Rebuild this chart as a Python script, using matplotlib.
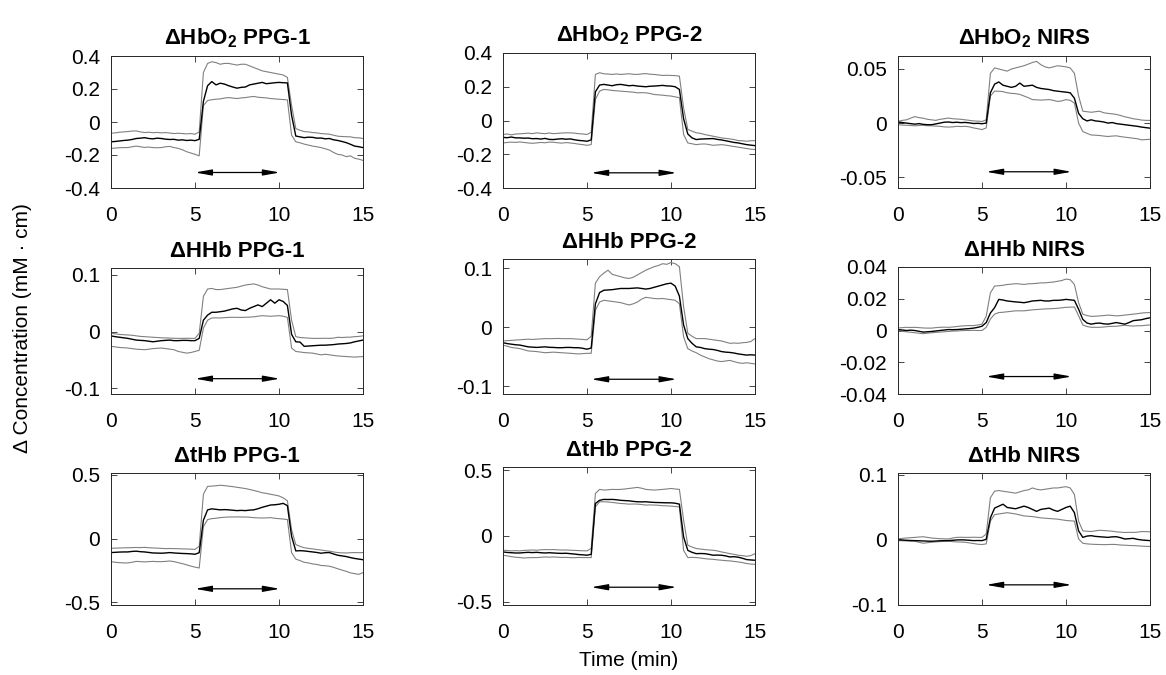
import numpy as np
import matplotlib
matplotlib.use('Agg')
from matplotlib import pyplot as plt
from matplotlib.ticker import FuncFormatter

plt.rcParams['font.family'] = ['Liberation Sans', 'DejaVu Sans']
plt.rcParams['mathtext.default'] = 'regular'
plt.rcParams['axes.unicode_minus'] = False

# time axis, minutes (sampled every 15 s)
t = np.arange(0, 15.01, 0.25)

titles = [r'ΔHbO$_2$ PPG-1', r'ΔHbO$_2$ PPG-2', r'ΔHbO$_2$ NIRS',
          'ΔHHb PPG-1', 'ΔHHb PPG-2', 'ΔHHb NIRS',
          'ΔtHb PPG-1', 'ΔtHb PPG-2', 'ΔtHb NIRS']

# ---- HbO2 PPG-1
hbo2_ppg1_mean = [-0.120, -0.118, -0.115, -0.112, -0.110, -0.106, -0.100, -0.098,
                  -0.095, -0.100, -0.102, -0.098, -0.100, -0.104, -0.106, -0.105,
                  -0.110, -0.108, -0.112, -0.110, -0.113, -0.105, 0.125, 0.220,
                  0.245, 0.225, 0.235, 0.230, 0.220, 0.212, 0.205, 0.210,
                  0.212, 0.225, 0.230, 0.235, 0.240, 0.232, 0.235, 0.238,
                  0.240, 0.238, 0.237, 0.040, -0.085, -0.090, -0.095, -0.092,
                  -0.093, -0.098, -0.097, -0.102, -0.100, -0.108, -0.112, -0.118,
                  -0.125, -0.135, -0.146, -0.150, -0.155]
hbo2_ppg1_hi = [-0.068, -0.066, -0.062, -0.060, -0.058, -0.055, -0.054, -0.060,
                -0.064, -0.062, -0.065, -0.063, -0.066, -0.064, -0.067, -0.070,
                -0.068, -0.070, -0.072, -0.070, -0.074, -0.060, 0.300, 0.355,
                0.365, 0.360, 0.350, 0.355, 0.355, 0.350, 0.345, 0.350,
                0.350, 0.340, 0.330, 0.320, 0.310, 0.305, 0.300, 0.295,
                0.290, 0.285, 0.270, 0.100, -0.040, -0.050, -0.058, -0.060,
                -0.064, -0.066, -0.070, -0.072, -0.074, -0.080, -0.086, -0.088,
                -0.089, -0.090, -0.095, -0.096, -0.100]
hbo2_ppg1_lo = [-0.160, -0.158, -0.156, -0.155, -0.155, -0.150, -0.146, -0.150,
                -0.154, -0.152, -0.155, -0.156, -0.155, -0.150, -0.148, -0.155,
                -0.160, -0.168, -0.180, -0.188, -0.196, -0.205, 0.100, 0.130,
                0.135, 0.138, 0.140, 0.145, 0.148, 0.145, 0.142, 0.146,
                0.148, 0.152, 0.155, 0.150, 0.148, 0.146, 0.142, 0.140,
                0.138, 0.136, 0.134, -0.080, -0.120, -0.126, -0.134, -0.140,
                -0.146, -0.150, -0.155, -0.162, -0.170, -0.185, -0.196, -0.200,
                -0.210, -0.205, -0.220, -0.225, -0.233]

# ---- HbO2 PPG-2
hbo2_ppg2_mean = [-0.100, -0.102, -0.098, -0.103, -0.103, -0.105, -0.104, -0.108,
                  -0.107, -0.110, -0.106, -0.112, -0.113, -0.110, -0.108, -0.111,
                  -0.109, -0.114, -0.118, -0.120, -0.123, -0.115, 0.170, 0.210,
                  0.214, 0.210, 0.206, 0.212, 0.214, 0.210, 0.206, 0.208,
                  0.204, 0.202, 0.200, 0.203, 0.204, 0.206, 0.208, 0.205,
                  0.204, 0.200, 0.184, 0.010, -0.080, -0.103, -0.113, -0.110,
                  -0.109, -0.108, -0.107, -0.112, -0.115, -0.120, -0.125, -0.130,
                  -0.133, -0.138, -0.143, -0.146, -0.149]
hbo2_ppg2_hi = [-0.083, -0.080, -0.085, -0.080, -0.079, -0.077, -0.075, -0.078,
                -0.073, -0.076, -0.078, -0.074, -0.078, -0.076, -0.074, -0.073,
                -0.073, -0.075, -0.078, -0.080, -0.083, -0.070, 0.273, 0.283,
                0.277, 0.275, 0.273, 0.276, 0.273, 0.275, 0.277, 0.274,
                0.273, 0.276, 0.278, 0.274, 0.273, 0.270, 0.267, 0.268,
                0.267, 0.266, 0.263, 0.075, -0.053, -0.063, -0.073, -0.076,
                -0.083, -0.088, -0.093, -0.098, -0.103, -0.106, -0.109, -0.113,
                -0.119, -0.120, -0.123, -0.120, -0.119]
hbo2_ppg2_lo = [-0.133, -0.130, -0.128, -0.130, -0.127, -0.130, -0.133, -0.135,
                -0.133, -0.130, -0.132, -0.128, -0.129, -0.132, -0.134, -0.131,
                -0.133, -0.136, -0.140, -0.143, -0.147, -0.143, 0.125, 0.174,
                0.184, 0.182, 0.178, 0.176, 0.174, 0.172, 0.170, 0.168,
                0.164, 0.165, 0.164, 0.160, 0.154, 0.152, 0.150, 0.147,
                0.145, 0.140, 0.135, -0.083, -0.133, -0.138, -0.143, -0.140,
                -0.139, -0.142, -0.147, -0.145, -0.143, -0.146, -0.150, -0.154,
                -0.158, -0.162, -0.166, -0.170, -0.172]

# ---- HbO2 NIRS
hbo2_nirs_mean = [0.0010, 0.0005, 0.0000, -0.0005, -0.0010, -0.0005, -0.0012, -0.0015,
                  -0.0015, -0.0008, 0.0000, 0.0008, 0.0010, 0.0005, 0.0008, 0.0004,
                  0.0006, 0.0002, -0.0004, -0.0002, -0.0006, 0.0000, 0.0280, 0.0360,
                  0.0380, 0.0350, 0.0340, 0.0330, 0.0340, 0.0370, 0.0340, 0.0345,
                  0.0350, 0.0330, 0.0320, 0.0315, 0.0310, 0.0300, 0.0295, 0.0290,
                  0.0286, 0.0280, 0.0230, 0.0090, 0.0040, 0.0020, 0.0030, 0.0020,
                  0.0016, 0.0010, 0.0000, 0.0005, -0.0005, -0.0010, -0.0015, -0.0020,
                  -0.0025, -0.0030, -0.0037, -0.0042, -0.0047]
hbo2_nirs_hi = [0.0015, 0.0025, 0.0030, 0.0045, 0.0060, 0.0050, 0.0045, 0.0035,
                0.0030, 0.0025, 0.0035, 0.0040, 0.0047, 0.0040, 0.0038, 0.0035,
                0.0030, 0.0025, 0.0020, 0.0018, 0.0015, 0.0030, 0.0460, 0.0510,
                0.0500, 0.0490, 0.0480, 0.0500, 0.0510, 0.0520, 0.0530, 0.0545,
                0.0560, 0.0570, 0.0540, 0.0520, 0.0510, 0.0520, 0.0530, 0.0525,
                0.0520, 0.0510, 0.0460, 0.0250, 0.0110, 0.0105, 0.0100, 0.0105,
                0.0110, 0.0095, 0.0090, 0.0085, 0.0080, 0.0070, 0.0058, 0.0050,
                0.0040, 0.0035, 0.0028, 0.0025, 0.0025]
hbo2_nirs_lo = [-0.0015, -0.0018, -0.0020, -0.0022, -0.0025, -0.0022, -0.0020, -0.0025,
                -0.0025, -0.0028, -0.0030, -0.0035, -0.0037, -0.0035, -0.0030, -0.0032,
                -0.0030, -0.0035, -0.0045, -0.0052, -0.0060, -0.0045, 0.0250, 0.0295,
                0.0295, 0.0290, 0.0280, 0.0275, 0.0272, 0.0265, 0.0250, 0.0235,
                0.0217, 0.0215, 0.0212, 0.0215, 0.0217, 0.0210, 0.0200, 0.0205,
                0.0217, 0.0210, 0.0185, 0.0000, -0.0078, -0.0095, -0.0110, -0.0112,
                -0.0115, -0.0120, -0.0124, -0.0120, -0.0118, -0.0125, -0.0130, -0.0135,
                -0.0140, -0.0145, -0.0155, -0.0152, -0.0150]

# ---- HHb PPG-1
hhb_ppg1_mean = [-0.0076, -0.0090, -0.0100, -0.0110, -0.0120, -0.0135, -0.0150, -0.0155,
                 -0.0160, -0.0170, -0.0180, -0.0170, -0.0160, -0.0155, -0.0150, -0.0160,
                 -0.0160, -0.0155, -0.0155, -0.0160, -0.0160, -0.0120, 0.0200, 0.0290,
                 0.0340, 0.0340, 0.0350, 0.0360, 0.0380, 0.0400, 0.0410, 0.0380,
                 0.0370, 0.0410, 0.0440, 0.0470, 0.0440, 0.0500, 0.0560, 0.0500,
                 0.0560, 0.0530, 0.0460, -0.0050, -0.0180, -0.0185, -0.0260, -0.0255,
                 -0.0250, -0.0245, -0.0240, -0.0240, -0.0235, -0.0230, -0.0220, -0.0215,
                 -0.0210, -0.0200, -0.0180, -0.0165, -0.0150]
hhb_ppg1_hi = [-0.0030, -0.0040, -0.0050, -0.0055, -0.0060, -0.0065, -0.0075, -0.0085,
               -0.0090, -0.0095, -0.0100, -0.0105, -0.0110, -0.0112, -0.0115, -0.0118,
               -0.0120, -0.0120, -0.0118, -0.0120, -0.0120, -0.0030, 0.0620, 0.0750,
               0.0760, 0.0740, 0.0740, 0.0750, 0.0760, 0.0770, 0.0780, 0.0800,
               0.0820, 0.0830, 0.0840, 0.0820, 0.0790, 0.0770, 0.0750, 0.0750,
               0.0750, 0.0745, 0.0740, 0.0200, -0.0090, -0.0105, -0.0110, -0.0115,
               -0.0120, -0.0120, -0.0120, -0.0118, -0.0120, -0.0115, -0.0100, -0.0105,
               -0.0100, -0.0098, -0.0090, -0.0085, -0.0076]
hhb_ppg1_lo = [-0.0260, -0.0270, -0.0280, -0.0285, -0.0290, -0.0300, -0.0310, -0.0315,
               -0.0320, -0.0310, -0.0300, -0.0295, -0.0290, -0.0300, -0.0310, -0.0320,
               -0.0350, -0.0365, -0.0380, -0.0370, -0.0350, -0.0330, 0.0060, 0.0200,
               0.0240, 0.0242, 0.0240, 0.0245, 0.0250, 0.0252, 0.0250, 0.0250,
               0.0252, 0.0255, 0.0260, 0.0270, 0.0280, 0.0275, 0.0270, 0.0275,
               0.0280, 0.0270, 0.0250, -0.0290, -0.0350, -0.0360, -0.0370, -0.0375,
               -0.0380, -0.0395, -0.0410, -0.0400, -0.0410, -0.0420, -0.0430, -0.0435,
               -0.0440, -0.0445, -0.0450, -0.0445, -0.0440]

# ---- HHb PPG-2
hhb_ppg2_mean = [-0.0260, -0.0275, -0.0285, -0.0295, -0.0300, -0.0315, -0.0330, -0.0335,
                 -0.0340, -0.0335, -0.0330, -0.0338, -0.0340, -0.0345, -0.0345, -0.0340,
                 -0.0340, -0.0345, -0.0345, -0.0355, -0.0370, -0.0350, 0.0400, 0.0590,
                 0.0630, 0.0635, 0.0640, 0.0650, 0.0660, 0.0660, 0.0660, 0.0665,
                 0.0670, 0.0660, 0.0650, 0.0660, 0.0680, 0.0700, 0.0720, 0.0740,
                 0.0750, 0.0700, 0.0530, 0.0040, -0.0190, -0.0270, -0.0330, -0.0340,
                 -0.0360, -0.0370, -0.0375, -0.0390, -0.0410, -0.0420, -0.0425, -0.0435,
                 -0.0450, -0.0460, -0.0470, -0.0465, -0.0470]
hhb_ppg2_hi = [-0.0230, -0.0225, -0.0220, -0.0215, -0.0210, -0.0205, -0.0200, -0.0205,
               -0.0200, -0.0195, -0.0190, -0.0192, -0.0190, -0.0188, -0.0190, -0.0192,
               -0.0190, -0.0195, -0.0200, -0.0205, -0.0210, -0.0150, 0.0750, 0.0860,
               0.0920, 0.0970, 0.0900, 0.0880, 0.0860, 0.0840, 0.0830, 0.0850,
               0.0890, 0.0930, 0.0970, 0.1000, 0.1030, 0.1050, 0.1080, 0.1070,
               0.1100, 0.1080, 0.1030, 0.0350, -0.0100, -0.0150, -0.0190, -0.0190,
               -0.0190, -0.0200, -0.0210, -0.0220, -0.0230, -0.0250, -0.0270, -0.0265,
               -0.0270, -0.0260, -0.0255, -0.0240, -0.0190]
hhb_ppg2_lo = [-0.0300, -0.0320, -0.0340, -0.0350, -0.0360, -0.0380, -0.0400, -0.0405,
               -0.0410, -0.0420, -0.0430, -0.0425, -0.0420, -0.0425, -0.0430, -0.0435,
               -0.0440, -0.0445, -0.0450, -0.0445, -0.0440, -0.0440, 0.0290, 0.0430,
               0.0460, 0.0450, 0.0440, 0.0430, 0.0420, 0.0400, 0.0380, 0.0400,
               0.0430, 0.0480, 0.0510, 0.0500, 0.0490, 0.0485, 0.0490, 0.0480,
               0.0470, 0.0460, 0.0400, -0.0160, -0.0360, -0.0400, -0.0430, -0.0470,
               -0.0500, -0.0530, -0.0550, -0.0570, -0.0580, -0.0570, -0.0560, -0.0580,
               -0.0600, -0.0610, -0.0600, -0.0610, -0.0620]

# ---- HHb NIRS
hhb_nirs_mean = [0.0006, 0.0003, 0.0000, 0.0002, 0.0000, -0.0005, -0.0010, -0.0008,
                 -0.0006, -0.0003, 0.0000, 0.0003, 0.0006, 0.0005, 0.0006, 0.0008,
                 0.0010, 0.0012, 0.0015, 0.0020, 0.0027, 0.0050, 0.0110, 0.0144,
                 0.0196, 0.0192, 0.0186, 0.0183, 0.0180, 0.0178, 0.0175, 0.0180,
                 0.0186, 0.0188, 0.0190, 0.0186, 0.0186, 0.0190, 0.0190, 0.0192,
                 0.0196, 0.0193, 0.0190, 0.0134, 0.0070, 0.0047, 0.0040, 0.0045,
                 0.0047, 0.0042, 0.0040, 0.0045, 0.0050, 0.0045, 0.0040, 0.0050,
                 0.0062, 0.0065, 0.0068, 0.0075, 0.0080]
hhb_nirs_hi = [0.0016, 0.0018, 0.0020, 0.0019, 0.0020, 0.0018, 0.0016, 0.0015,
               0.0015, 0.0018, 0.0020, 0.0021, 0.0020, 0.0022, 0.0025, 0.0028,
               0.0030, 0.0031, 0.0031, 0.0035, 0.0040, 0.0090, 0.0237, 0.0280,
               0.0282, 0.0285, 0.0290, 0.0292, 0.0295, 0.0293, 0.0290, 0.0294,
               0.0295, 0.0297, 0.0300, 0.0300, 0.0303, 0.0305, 0.0310, 0.0315,
               0.0324, 0.0320, 0.0290, 0.0175, 0.0103, 0.0094, 0.0089, 0.0090,
               0.0092, 0.0094, 0.0097, 0.0095, 0.0092, 0.0094, 0.0097, 0.0100,
               0.0103, 0.0106, 0.0110, 0.0112, 0.0113]
hhb_nirs_lo = [0.0000, -0.0005, -0.0008, -0.0011, -0.0014, -0.0017, -0.0020, -0.0017,
               -0.0014, -0.0012, -0.0010, -0.0008, -0.0006, -0.0004, -0.0003, -0.0001,
               0.0000, 0.0000, 0.0001, 0.0000, 0.0000, 0.0020, 0.0072, 0.0103,
               0.0113, 0.0115, 0.0118, 0.0121, 0.0124, 0.0124, 0.0124, 0.0127,
               0.0130, 0.0132, 0.0134, 0.0136, 0.0137, 0.0138, 0.0140, 0.0143,
               0.0146, 0.0147, 0.0148, 0.0093, 0.0035, 0.0025, 0.0020, 0.0020,
               0.0020, 0.0022, 0.0025, 0.0026, 0.0027, 0.0030, 0.0033, 0.0030,
               0.0028, 0.0030, 0.0030, 0.0033, 0.0035]

# ---- tHb PPG-1
thb_ppg1_mean = [-0.109, -0.107, -0.105, -0.104, -0.104, -0.100, -0.098, -0.102,
                 -0.104, -0.108, -0.112, -0.113, -0.114, -0.112, -0.109, -0.112,
                 -0.114, -0.116, -0.117, -0.119, -0.122, -0.110, 0.145, 0.226,
                 0.234, 0.230, 0.226, 0.228, 0.226, 0.223, 0.220, 0.222,
                 0.220, 0.224, 0.226, 0.235, 0.246, 0.255, 0.264, 0.266,
                 0.270, 0.277, 0.259, 0.018, -0.096, -0.094, -0.096, -0.100,
                 -0.104, -0.108, -0.114, -0.110, -0.109, -0.120, -0.130, -0.135,
                 -0.140, -0.148, -0.155, -0.160, -0.165]
thb_ppg1_hi = [-0.076, -0.074, -0.073, -0.072, -0.071, -0.070, -0.069, -0.070,
               -0.068, -0.071, -0.073, -0.074, -0.076, -0.078, -0.077, -0.078,
               -0.079, -0.080, -0.081, -0.082, -0.084, -0.060, 0.348, 0.410,
               0.412, 0.415, 0.419, 0.416, 0.412, 0.408, 0.403, 0.398,
               0.393, 0.386, 0.378, 0.370, 0.360, 0.355, 0.348, 0.342,
               0.335, 0.320, 0.297, 0.069, -0.046, -0.060, -0.071, -0.076,
               -0.080, -0.085, -0.089, -0.094, -0.098, -0.104, -0.109, -0.111,
               -0.112, -0.110, -0.109, -0.110, -0.109]
thb_ppg1_lo = [-0.180, -0.185, -0.188, -0.190, -0.190, -0.185, -0.178, -0.180,
               -0.182, -0.180, -0.178, -0.180, -0.180, -0.178, -0.175, -0.180,
               -0.188, -0.196, -0.205, -0.215, -0.223, -0.230, 0.094, 0.150,
               0.157, 0.160, 0.165, 0.168, 0.170, 0.170, 0.171, 0.170,
               0.170, 0.168, 0.165, 0.163, 0.162, 0.163, 0.165, 0.160,
               0.157, 0.154, 0.150, -0.110, -0.160, -0.172, -0.185, -0.190,
               -0.198, -0.202, -0.210, -0.212, -0.216, -0.225, -0.236, -0.246,
               -0.256, -0.268, -0.274, -0.280, -0.266]

# ---- tHb PPG-2
thb_ppg2_mean = [-0.122, -0.126, -0.128, -0.130, -0.130, -0.127, -0.125, -0.127,
                 -0.125, -0.128, -0.130, -0.128, -0.130, -0.132, -0.133, -0.132,
                 -0.135, -0.138, -0.142, -0.144, -0.147, -0.140, 0.246, 0.270,
                 0.277, 0.276, 0.277, 0.274, 0.270, 0.268, 0.266, 0.262,
                 0.259, 0.258, 0.259, 0.256, 0.254, 0.253, 0.252, 0.251,
                 0.251, 0.248, 0.241, -0.008, -0.110, -0.125, -0.135, -0.134,
                 -0.135, -0.140, -0.147, -0.146, -0.147, -0.152, -0.160, -0.158,
                 -0.162, -0.170, -0.180, -0.183, -0.185]
thb_ppg2_hi = [-0.109, -0.111, -0.114, -0.112, -0.114, -0.110, -0.109, -0.107,
               -0.109, -0.106, -0.104, -0.105, -0.104, -0.106, -0.108, -0.107,
               -0.109, -0.110, -0.112, -0.113, -0.114, -0.095, 0.322, 0.353,
               0.348, 0.350, 0.353, 0.352, 0.353, 0.356, 0.360, 0.364,
               0.368, 0.362, 0.353, 0.350, 0.348, 0.350, 0.353, 0.356,
               0.360, 0.356, 0.353, 0.120, -0.071, -0.085, -0.096, -0.100,
               -0.104, -0.107, -0.109, -0.114, -0.122, -0.128, -0.135, -0.140,
               -0.147, -0.150, -0.155, -0.150, -0.135]
thb_ppg2_lo = [-0.147, -0.152, -0.158, -0.162, -0.165, -0.168, -0.166, -0.165,
               -0.165, -0.163, -0.160, -0.162, -0.160, -0.162, -0.164, -0.163,
               -0.165, -0.166, -0.164, -0.165, -0.165, -0.165, 0.220, 0.259,
               0.259, 0.257, 0.254, 0.250, 0.246, 0.244, 0.241, 0.242,
               0.241, 0.238, 0.234, 0.235, 0.234, 0.232, 0.229, 0.228,
               0.226, 0.223, 0.220, -0.110, -0.165, -0.163, -0.165, -0.168,
               -0.173, -0.176, -0.178, -0.182, -0.185, -0.188, -0.190, -0.194,
               -0.198, -0.203, -0.210, -0.214, -0.216]

# ---- tHb NIRS
thb_nirs_mean = [0.0005, 0.0000, -0.0005, -0.0008, -0.0010, -0.0012, -0.0015, -0.0018,
                 -0.0020, -0.0016, -0.0012, -0.0010, -0.0010, -0.0005, 0.0000, 0.0002,
                 0.0000, -0.0005, -0.0010, -0.0008, -0.0010, 0.0010, 0.0340, 0.0490,
                 0.0520, 0.0550, 0.0500, 0.0490, 0.0480, 0.0500, 0.0520, 0.0500,
                 0.0470, 0.0440, 0.0470, 0.0480, 0.0490, 0.0460, 0.0440, 0.0470,
                 0.0500, 0.0520, 0.0420, 0.0140, 0.0040, 0.0060, 0.0066, 0.0055,
                 0.0050, 0.0045, 0.0040, 0.0048, 0.0050, 0.0035, 0.0015, 0.0020,
                 0.0025, 0.0010, 0.0000, -0.0005, -0.0010]
thb_nirs_hi = [0.0015, 0.0025, 0.0030, 0.0035, 0.0040, 0.0045, 0.0050, 0.0040,
               0.0030, 0.0025, 0.0020, 0.0018, 0.0015, 0.0030, 0.0040, 0.0042,
               0.0040, 0.0040, 0.0042, 0.0040, 0.0040, 0.0090, 0.0650, 0.0750,
               0.0760, 0.0750, 0.0740, 0.0730, 0.0720, 0.0740, 0.0760, 0.0770,
               0.0800, 0.0780, 0.0770, 0.0780, 0.0790, 0.0800, 0.0800, 0.0810,
               0.0820, 0.0800, 0.0700, 0.0290, 0.0140, 0.0135, 0.0130, 0.0140,
               0.0150, 0.0145, 0.0140, 0.0135, 0.0125, 0.0120, 0.0115, 0.0118,
               0.0116, 0.0120, 0.0130, 0.0128, 0.0126]
thb_nirs_lo = [-0.0010, -0.0012, -0.0015, -0.0018, -0.0020, -0.0035, -0.0050, -0.0042,
               -0.0035, -0.0030, -0.0025, -0.0022, -0.0020, -0.0025, -0.0030, -0.0032,
               -0.0035, -0.0045, -0.0055, -0.0065, -0.0070, -0.0060, 0.0290, 0.0390,
               0.0400, 0.0410, 0.0420, 0.0410, 0.0400, 0.0385, 0.0370, 0.0365,
               0.0360, 0.0350, 0.0340, 0.0335, 0.0330, 0.0325, 0.0320, 0.0310,
               0.0300, 0.0295, 0.0290, 0.0015, -0.0050, -0.0060, -0.0065, -0.0068,
               -0.0070, -0.0072, -0.0070, -0.0068, -0.0070, -0.0078, -0.0080, -0.0085,
               -0.0086, -0.0090, -0.0095, -0.0098, -0.0100]

means = [hbo2_ppg1_mean, hbo2_ppg2_mean, hbo2_nirs_mean,
         hhb_ppg1_mean, hhb_ppg2_mean, hhb_nirs_mean,
         thb_ppg1_mean, thb_ppg2_mean, thb_nirs_mean]
highs = [hbo2_ppg1_hi, hbo2_ppg2_hi, hbo2_nirs_hi,
         hhb_ppg1_hi, hhb_ppg2_hi, hhb_nirs_hi,
         thb_ppg1_hi, thb_ppg2_hi, thb_nirs_hi]
lows = [hbo2_ppg1_lo, hbo2_ppg2_lo, hbo2_nirs_lo,
        hhb_ppg1_lo, hhb_ppg2_lo, hhb_nirs_lo,
        thb_ppg1_lo, thb_ppg2_lo, thb_nirs_lo]

yticks = [[-0.4, -0.2, 0, 0.2, 0.4], [-0.4, -0.2, 0, 0.2, 0.4], [-0.05, 0, 0.05],
          [-0.1, 0, 0.1], [-0.1, 0, 0.1], [-0.04, -0.02, 0, 0.02, 0.04],
          [-0.5, 0, 0.5], [-0.5, 0, 0.5], [-0.1, 0, 0.1]]
ylims = [(-0.4, 0.4), (-0.4, 0.4), (-0.06, 0.062),
         (-0.11, 0.112), (-0.113, 0.116), (-0.039, 0.04),
         (-0.52, 0.515), (-0.525, 0.523), (-0.097, 0.103)]

# stimulus period arrows: start/end time per column, height per panel
arrow_t = [(5.0, 10.05), (5.25, 10.33), (5.25, 10.33)]
arrow_y = [-0.306, -0.31, -0.045,
           -0.083, -0.088, -0.029,
           -0.393, -0.39, -0.069]

# axes boxes in pixels (left, right) per column and (top, bottom) per panel
W, H = 1166, 675
col_px = [(111, 363), (503, 755), (898, 1150)]
row_px = [(56, 188), (53, 188), (56, 188),
          (268, 394), (259, 394), (267, 394),
          (473, 605), (467, 605), (473, 605)]

fig = plt.figure(figsize=(W / 100, H / 100), dpi=100)
fmt = FuncFormatter(lambda v, pos: '%g' % v)

for i in range(9):
    c = i % 3
    x0, x1 = col_px[c]
    top, bot = row_px[i]
    ax = fig.add_axes([x0 / W, 1 - bot / H, (x1 - x0) / W, (bot - top) / H])
    ax.plot(t, highs[i], color='0.5', lw=0.8)
    ax.plot(t, lows[i], color='0.5', lw=0.8)
    ax.plot(t, means[i], color='k', lw=1.0)
    ax.annotate('', xy=(arrow_t[c][1], arrow_y[i]), xytext=(arrow_t[c][0], arrow_y[i]),
                arrowprops=dict(arrowstyle='<|-|>,head_length=1.0,head_width=0.18',
                                color='k', lw=0.9, shrinkA=0, shrinkB=0))
    ax.set_xlim(0, 15)
    ax.set_ylim(*ylims[i])
    ax.set_xticks([0, 5, 10, 15])
    ax.set_yticks(yticks[i])
    ax.yaxis.set_major_formatter(fmt)
    ax.tick_params(direction='in', top=True, right=True, length=4, width=0.6,
                   labelsize=15, colors='0.15', labelcolor='k')
    ax.tick_params(axis='x', pad=13)
    ax.tick_params(axis='y', pad=8)
    for s in ax.spines.values():
        s.set_color('0.15')
        s.set_linewidth(0.7)
    ax.set_title(titles[i], fontsize=16, fontweight='bold', pad=8)

fig.text(0.019, 0.514, 'Δ Concentration (mM · cm)', rotation=90,
         ha='center', va='center', fontsize=15)
fig.text(629 / W, 1 - 660 / H, 'Time (min)', ha='center', va='center', fontsize=15)

fig.savefig('out.png', dpi=100)
